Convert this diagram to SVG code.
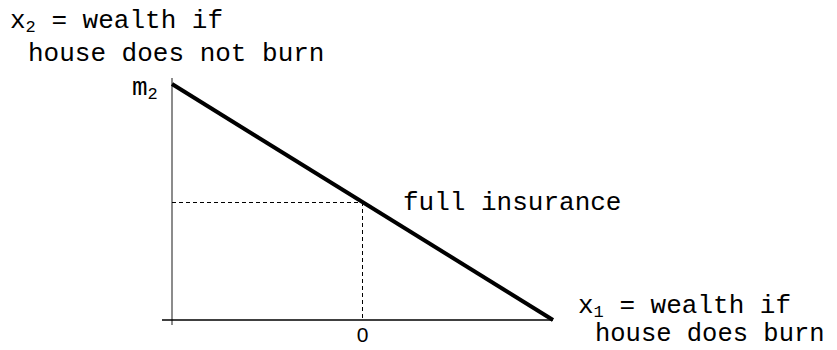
<svg xmlns="http://www.w3.org/2000/svg" width="837" height="350" viewBox="0 0 837 350">
<style>
.t{font-family:"Liberation Mono","Courier New",monospace;font-size:26px;fill:#000}
.s{font-size:17px}
.ax{stroke:#666;stroke-width:1.5;fill:none}
.dash{stroke:#000;stroke-width:1;stroke-dasharray:4,3;fill:none}
.budget{stroke:#000;stroke-width:4;fill:none}
</style>
<rect width="837" height="350" fill="#fff"/>
<g id="connectors">
<line class="ax" x1="172" y1="78" x2="172" y2="325"/>
<line class="ax" x1="162" y1="320" x2="553" y2="320" style="stroke:#000"/>
<line class="dash" x1="172" y1="202.5" x2="362" y2="202.5"/>
<line class="dash" x1="362.5" y1="202" x2="362.5" y2="320"/>
<line class="budget" x1="172" y1="84" x2="553" y2="320"/>
</g>
<g id="label-x2"><text class="t" x="10" y="28">x<tspan class="s" dy="4">2</tspan><tspan dy="-4"> = wealth if</tspan></text>
<text class="t" x="28" y="61">house does not burn</text></g>
<g id="label-m2"><text class="t" x="132" y="95">m<tspan class="s" dy="4">2</tspan></text></g>
<g id="label-full"><text class="t" x="403" y="210">full insurance</text></g>
<g id="label-x1"><text class="t" x="578" y="313">x<tspan class="s" dy="4">1</tspan><tspan dy="-4"> = wealth if</tspan></text>
<text class="t" x="595" y="341" style="font-size:25.5px">house does burn</text></g>
<g id="label-0"><text x="362.5" y="342" text-anchor="middle" style="font-family:'Liberation Sans',Arial,sans-serif;font-size:21px">0</text></g>
</svg>
